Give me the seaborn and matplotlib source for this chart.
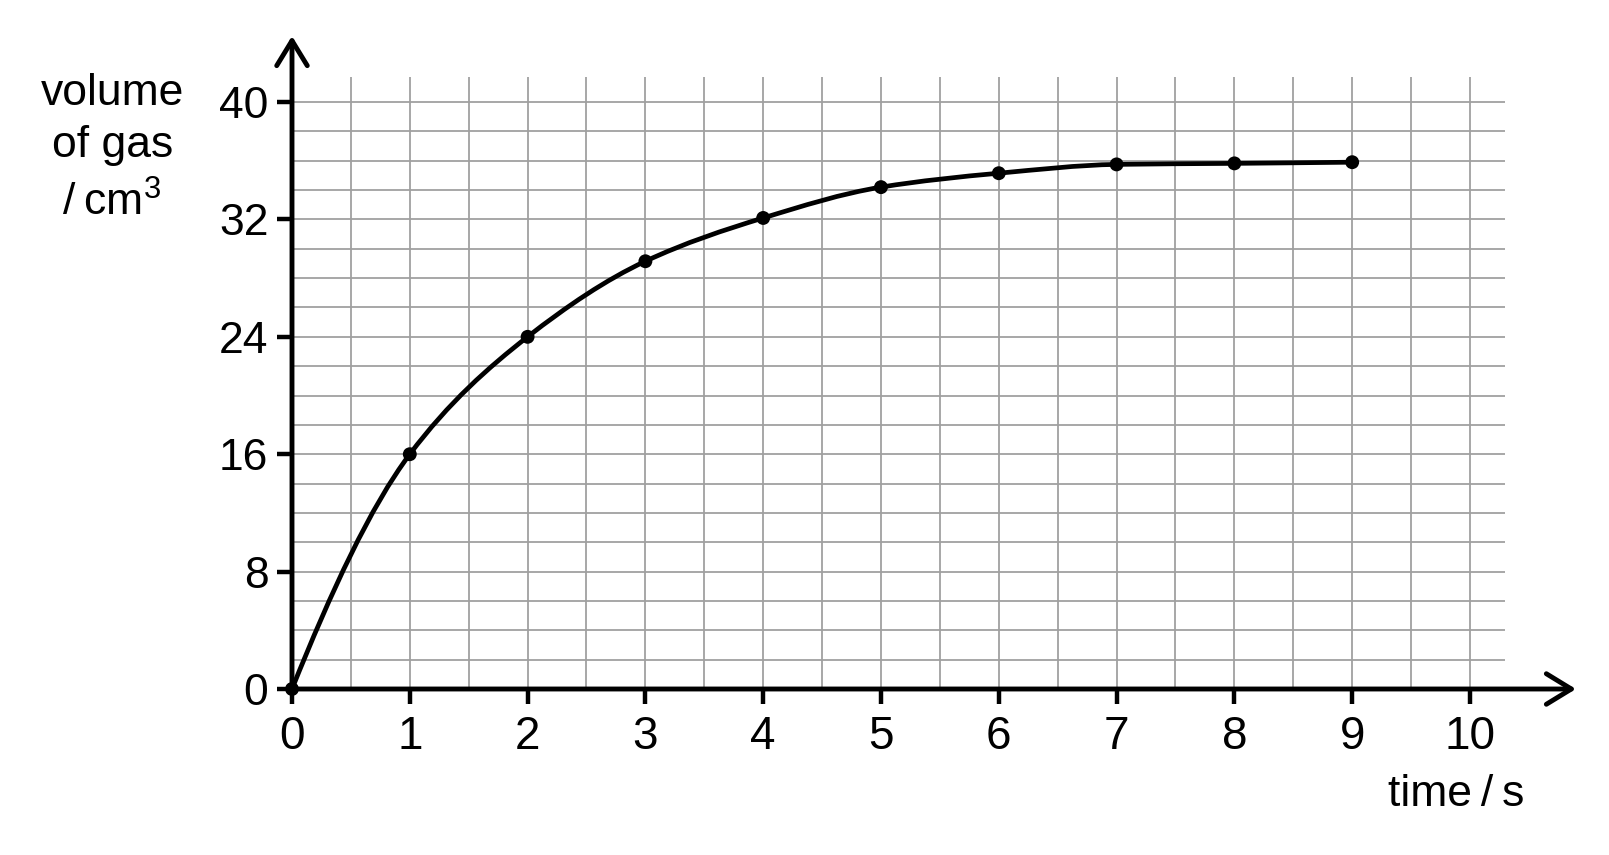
import numpy as np
import matplotlib
matplotlib.use('Agg')
import matplotlib.pyplot as plt
from matplotlib.path import Path
from matplotlib.patches import PathPatch
import seaborn as sns

# readings taken from the graph
time_s = [0, 1, 2, 3, 4, 5, 6, 7, 8, 9]
volume_cm3 = [0, 16, 24, 29.15, 32.1, 34.2, 35.15, 35.75, 35.82, 35.9]
x_ticks = [0, 1, 2, 3, 4, 5, 6, 7, 8, 9, 10]
y_ticks = [0, 8, 16, 24, 32, 40]

sns.set_theme(style='white')
plt.rcParams['font.family'] = ['Liberation Sans', 'DejaVu Sans']
plt.rcParams['mathtext.fontset'] = 'custom'
plt.rcParams['mathtext.rm'] = 'Liberation Sans'
plt.rcParams['mathtext.it'] = 'Liberation Sans'
plt.rcParams['text.color'] = 'black'

W, H = 1609, 855
fig = plt.figure(figsize=(W / 100, H / 100), dpi=100)
ax = fig.add_axes([292 / W, 166 / H, 1284 / W, 653 / H])
ax.set_xlim(0, 10.9)
ax.set_ylim(0, 44.5)
for s in ax.spines.values():
    s.set_visible(False)

# graph paper
ax.vlines(np.arange(0.5, 10.01, 0.5), 0, 41.7, color='#a0a0a0', lw=1.3, zorder=1)
ax.hlines(np.arange(2, 40.01, 2), 0, 10.3, color='#a0a0a0', lw=1.3, zorder=1)

# axes with arrow heads
arrow = dict(arrowstyle='->,head_length=1.8,head_width=1.1', lw=3.5, color='black',
             shrinkA=0, shrinkB=0, mutation_scale=10)
ax.annotate('', xy=(10.9, 0), xytext=(0, 0), arrowprops=arrow, annotation_clip=False, zorder=4)
ax.annotate('', xy=(0, 44.5), xytext=(0, 0), arrowprops=arrow, annotation_clip=False, zorder=4)

# smooth curve through the readings (shape preserving cubic, drawn as Bezier)
x = np.array(time_s, dtype=float)
y = np.array(volume_cm3, dtype=float)
d = np.diff(y) / np.diff(x)
m = np.empty_like(y)
m[1:-1] = 2 / (1 / d[:-1] + 1 / d[1:])
m[0] = (3 * d[0] - d[1]) / 2
m[-1] = (3 * d[-1] - d[-2]) / 2
verts = [(x[0], y[0])]
codes = [Path.MOVETO]
for i in range(len(x) - 1):
    h = x[i + 1] - x[i]
    verts += [(x[i] + h / 3, y[i] + m[i] * h / 3),
              (x[i + 1] - h / 3, y[i + 1] - m[i + 1] * h / 3),
              (x[i + 1], y[i + 1])]
    codes += [Path.CURVE4] * 3
ax.add_patch(PathPatch(Path(verts, codes), fill=False, lw=3.4, edgecolor='black',
                       capstyle='round', zorder=5))

sns.scatterplot(x=time_s, y=volume_cm3, color='black', s=100, edgecolor='none',
                ax=ax, zorder=6, clip_on=False)

ax.set_xticks(x_ticks)
ax.set_yticks(y_ticks)
ax.tick_params(axis='both', which='both', bottom=True, left=True, direction='out',
               length=11, width=3.2, color='black', labelcolor='black')
ax.tick_params(axis='x', labelsize=33, pad=8)
ax.tick_params(axis='y', labelsize=32, pad=6)
ax.grid(False)

# axis titles
fig.text(113 / W, 1 - 105 / H, 'volume', ha='center', va='baseline', fontsize=32, color='black')
fig.text(113 / W, 1 - 157 / H, 'of gas', ha='center', va='baseline', fontsize=32, color='black')
fig.text(111 / W, 1 - 216 / H, '/\u2009cm$^3$', ha='center', va='baseline', fontsize=32, color='black')
fig.text(1524 / W, 1 - 806 / H, 'time\u2009/\u2009s', ha='right', va='baseline', fontsize=32, color='black')

fig.savefig('out.png', dpi=100, facecolor='white')
